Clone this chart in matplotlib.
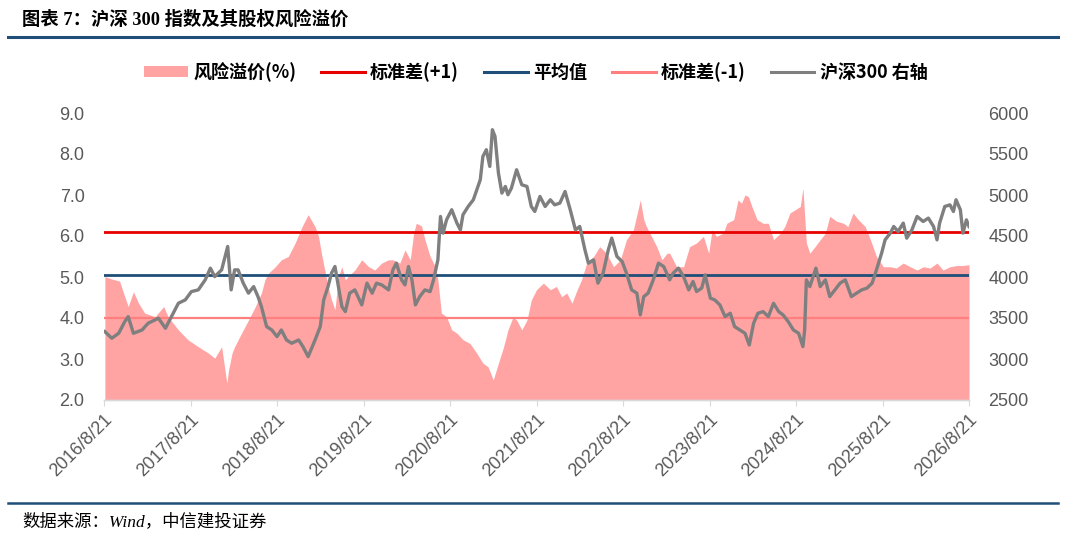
import matplotlib
matplotlib.use("Agg")
import matplotlib.pyplot as plt
from matplotlib.lines import Line2D
from matplotlib.patches import Patch

plt.rcParams['font.family'] = ['Noto Sans CJK SC', 'DejaVu Sans']

# ---- data (time as decimal year) ----
erp_t = [2016.65, 2016.73, 2016.82, 2016.88, 2016.92, 2016.98, 2017.04, 2017.11, 2017.23, 2017.33,
         2017.38, 2017.50, 2017.61, 2017.73, 2017.85, 2017.92, 2018.00, 2018.06, 2018.08, 2018.12,
         2018.15, 2018.23, 2018.31, 2018.39, 2018.46, 2018.50, 2018.54, 2018.62, 2018.69, 2018.77,
         2018.85, 2018.93, 2019.00, 2019.08, 2019.12, 2019.16, 2019.20, 2019.23, 2019.27, 2019.31,
         2019.35, 2019.39, 2019.43, 2019.46, 2019.54, 2019.62, 2019.70, 2019.77, 2019.85, 2019.93,
         2019.98, 2020.06, 2020.12, 2020.18, 2020.22, 2020.25, 2020.31, 2020.35, 2020.41, 2020.47,
         2020.50, 2020.54, 2020.60, 2020.66, 2020.72, 2020.79, 2020.87, 2020.95, 2021.02, 2021.08,
         2021.14, 2021.20, 2021.26, 2021.31, 2021.37, 2021.41, 2021.47, 2021.53, 2021.58, 2021.64,
         2021.72, 2021.80, 2021.87, 2021.93, 2021.99, 2022.05, 2022.11, 2022.16, 2022.22, 2022.30,
         2022.37, 2022.45, 2022.53, 2022.61, 2022.68, 2022.76, 2022.84, 2022.88, 2022.91, 2022.97,
         2023.03, 2023.09, 2023.15, 2023.18, 2023.26, 2023.34, 2023.41, 2023.49, 2023.57, 2023.63,
         2023.67, 2023.72, 2023.80, 2023.84, 2023.92, 2023.97, 2024.01, 2024.05, 2024.09, 2024.13,
         2024.19, 2024.26, 2024.32, 2024.38, 2024.46, 2024.51, 2024.57, 2024.63, 2024.69, 2024.72,
         2024.76, 2024.80, 2024.86, 2024.92, 2024.98, 2025.03, 2025.11, 2025.19, 2025.24, 2025.30,
         2025.36, 2025.44, 2025.50, 2025.57, 2025.65, 2025.73, 2025.80, 2025.88, 2025.96, 2026.04,
         2026.11, 2026.19, 2026.27, 2026.34, 2026.42, 2026.50, 2026.57, 2026.64]
erp = [5.01, 4.95, 4.90, 4.52, 4.28, 4.64, 4.36, 4.12, 4.03, 4.28,
       4.03, 3.71, 3.47, 3.30, 3.14, 3.02, 3.30, 2.41, 2.73, 3.14,
       3.30, 3.63, 3.95, 4.28, 4.61, 4.93, 5.09, 5.25, 5.42, 5.50,
       5.83, 6.23, 6.52, 6.23, 5.99, 5.50, 5.09, 4.77, 4.44, 4.20,
       5.01, 5.25, 4.93, 5.01, 5.17, 5.42, 5.25, 5.17, 5.34, 5.42,
       5.42, 5.34, 5.66, 5.42, 6.07, 6.31, 6.25, 5.91, 5.50, 5.25,
       4.93, 4.12, 4.03, 3.71, 3.63, 3.47, 3.38, 3.14, 2.90, 2.81,
       2.49, 2.90, 3.30, 3.71, 4.03, 3.95, 3.71, 3.95, 4.44, 4.69,
       4.85, 4.69, 4.77, 4.52, 4.61, 4.36, 4.69, 4.93, 5.34, 5.50,
       5.74, 5.58, 5.25, 5.42, 5.91, 6.15, 6.88, 6.40, 6.23, 5.99,
       5.74, 5.42, 5.58, 5.58, 5.25, 5.25, 5.74, 5.83, 5.99, 5.58,
       6.15, 5.99, 6.07, 6.31, 6.40, 6.88, 6.80, 7.00, 6.96, 6.72,
       6.40, 6.31, 6.31, 5.91, 6.07, 6.23, 6.56, 6.64, 6.72, 7.17,
       5.83, 5.58, 5.74, 5.91, 6.07, 6.48, 6.36, 6.31, 6.23, 6.56,
       6.40, 6.23, 5.91, 5.50, 5.25, 5.25, 5.22, 5.34, 5.25, 5.17,
       5.25, 5.22, 5.34, 5.17, 5.25, 5.28, 5.28, 5.30]

hs300_t = [2016.65, 2016.73, 2016.81, 2016.88, 2016.92, 2016.98, 2017.08, 2017.15, 2017.27, 2017.35,
           2017.42, 2017.50, 2017.58, 2017.65, 2017.73, 2017.81, 2017.87, 2017.92, 2018.00, 2018.07,
           2018.11, 2018.15, 2018.19, 2018.25, 2018.31, 2018.37, 2018.42, 2018.46, 2018.52, 2018.58,
           2018.64, 2018.69, 2018.75, 2018.81, 2018.89, 2018.94, 2019.00, 2019.08, 2019.14, 2019.18,
           2019.23, 2019.27, 2019.31, 2019.35, 2019.39, 2019.43, 2019.48, 2019.54, 2019.62, 2019.68,
           2019.74, 2019.79, 2019.85, 2019.93, 2019.98, 2020.02, 2020.08, 2020.12, 2020.16, 2020.20,
           2020.24, 2020.29, 2020.35, 2020.41, 2020.45, 2020.50, 2020.53, 2020.56, 2020.60, 2020.66,
           2020.72, 2020.76, 2020.79, 2020.85, 2020.91, 2020.95, 2020.99, 2021.02, 2021.06, 2021.10,
           2021.13, 2021.16, 2021.20, 2021.24, 2021.28, 2021.31, 2021.35, 2021.41, 2021.47, 2021.53,
           2021.58, 2021.62, 2021.68, 2021.74, 2021.80, 2021.85, 2021.91, 2021.97, 2022.03, 2022.09,
           2022.14, 2022.20, 2022.24, 2022.30, 2022.35, 2022.41, 2022.47, 2022.51, 2022.57, 2022.63,
           2022.68, 2022.74, 2022.80, 2022.84, 2022.88, 2022.93, 2022.99, 2023.05, 2023.11, 2023.18,
           2023.22, 2023.28, 2023.34, 2023.40, 2023.45, 2023.49, 2023.55, 2023.59, 2023.65, 2023.70,
           2023.76, 2023.82, 2023.88, 2023.93, 2023.99, 2024.05, 2024.10, 2024.15, 2024.20, 2024.26,
           2024.32, 2024.38, 2024.44, 2024.49, 2024.55, 2024.61, 2024.67, 2024.72, 2024.74, 2024.76,
           2024.80, 2024.87, 2024.92, 2024.98, 2025.03, 2025.09, 2025.15, 2025.21, 2025.28, 2025.34,
           2025.40, 2025.46, 2025.52, 2025.57, 2025.63, 2025.67, 2025.73, 2025.77, 2025.82, 2025.88,
           2025.92, 2025.98, 2026.04, 2026.11, 2026.17, 2026.23, 2026.27, 2026.30, 2026.36, 2026.42,
           2026.46, 2026.49, 2026.54, 2026.57, 2026.61, 2026.64]
hs300 = [3334, 3253, 3314, 3456, 3517, 3314, 3354, 3436, 3497, 3375,
         3517, 3680, 3721, 3822, 3843, 3965, 4108, 4005, 4087, 4372,
         3843, 4087, 4087, 3925, 3803, 3883, 3761, 3639, 3395, 3354,
         3273, 3354, 3232, 3192, 3232, 3151, 3029, 3232, 3395, 3721,
         3883, 4047, 4128, 3883, 3639, 3578, 3803, 3843, 3660, 3925,
         3803, 3925, 3904, 3843, 4087, 4169, 3965, 3904, 4128, 3965,
         3660, 3761, 3843, 3822, 3965, 4209, 4738, 4535, 4697, 4820,
         4657, 4575, 4759, 4860, 4942, 5064, 5186, 5470, 5552, 5348,
         5796, 5715, 5267, 5023, 5104, 5003, 5084, 5308, 5125, 5104,
         4860, 4799, 4982, 4860, 4942, 4880, 4901, 5043, 4820, 4575,
         4616, 4331, 4169, 4209, 3925, 4047, 4331, 4474, 4250, 4189,
         4047, 3843, 3803, 3538, 3761, 3803, 3965, 4169, 4128, 3965,
         4047, 4108, 4005, 3843, 3945, 3823, 3864, 4026, 3742, 3721,
         3660, 3517, 3558, 3395, 3354, 3314, 3171, 3436, 3558, 3578,
         3517, 3680, 3578, 3538, 3456, 3354, 3314, 3151, 3354, 3965,
         3883, 4108, 3883, 3965, 3761, 3843, 3925, 3965, 3761, 3803,
         3843, 3864, 3925, 4087, 4291, 4453, 4535, 4616, 4555, 4657,
         4474, 4575, 4738, 4677, 4718, 4616, 4453, 4657, 4860, 4880,
         4799, 4942, 4820, 4535, 4697, 4616]

erp_mean = 5.05
erp_plus1 = 6.09
erp_minus1 = 4.01

tick_pos = [2016.64 + k for k in range(11)]
tick_labels = [f"{2016 + k}/8/21" for k in range(11)]
left_ticks = [2.0, 3.0, 4.0, 5.0, 6.0, 7.0, 8.0, 9.0]
right_ticks = [2500, 3000, 3500, 4000, 4500, 5000, 5500, 6000]

# ---- colours ----
c_fill = '#FFA3A3'
c_plus = '#E60000'
c_mean = '#1F4E79'
c_minus = '#FF7F7F'
c_line = '#7F7F7F'
c_tick = '#595959'
c_rule = '#1F4E79'

W, H = 1080, 538
fig = plt.figure(figsize=(W / 100, H / 100), dpi=100)

ax = fig.add_axes([104 / W, 1 - 400 / H, 865 / W, 287 / H])
ax.fill_between(erp_t, 2.0, erp, color=c_fill, linewidth=0, zorder=1)
ax.axhline(erp_plus1, color=c_plus, lw=2.0, zorder=2)
ax.axhline(erp_mean, color=c_mean, lw=2.0, zorder=2)
ax.axhline(erp_minus1, color=c_minus, lw=1.6, zorder=2)
ax.set_xlim(tick_pos[0], tick_pos[-1])
ax.set_ylim(2.0, 9.0)
ax.set_yticks(left_ticks)
ax.set_yticklabels([f"{v:.1f}" for v in left_ticks])
ax.set_xticks(tick_pos)
ax.set_xticklabels(tick_labels, rotation=45, ha='right', rotation_mode='anchor')

ax2 = ax.twinx()
ax2.plot(hs300_t, hs300, color=c_line, lw=2.4, zorder=3)
ax2.set_ylim(2500, 6000)
ax2.set_yticks(right_ticks)
ax2.set_xlim(tick_pos[0], tick_pos[-1])

for a in (ax, ax2):
    for s in ('top', 'left', 'right'):
        a.spines[s].set_visible(False)
    a.spines['bottom'].set_color('#D9D9D9')
    a.spines['bottom'].set_linewidth(1.0)
    for lab in a.get_xticklabels() + a.get_yticklabels():
        lab.set_family(['Liberation Sans', 'DejaVu Sans'])
        lab.set_fontsize(13)
        lab.set_color(c_tick)
ax.tick_params(axis='y', length=0, pad=14)
ax2.tick_params(axis='y', length=0, pad=14)
ax.tick_params(axis='x', length=4, color='#D9D9D9', pad=4)

# legend
handles = [Patch(facecolor=c_fill, edgecolor='none'),
           Line2D([], [], color=c_plus, lw=2.2),
           Line2D([], [], color=c_mean, lw=2.2),
           Line2D([], [], color=c_minus, lw=2.2),
           Line2D([], [], color=c_line, lw=2.2)]
labels = ['风险溢价(%)', '标准差(+1)', '平均值', '标准差(-1)', '沪深300 右轴']
fig.legend(handles, labels, loc='center', bbox_to_anchor=(536 / W, 1 - 72 / H), ncol=5,
           frameon=False, handlelength=2.4, handleheight=0.6, handletextpad=0.3,
           columnspacing=1.4, prop={'family': ['Noto Sans CJK SC', 'DejaVu Sans'],
                                     'size': 13, 'weight': 'bold'})

# title, rules, source
fig.text(22 / W, 1 - 20 / H, '图表 7：沪深 300 指数及其股权风险溢价', ha='left', va='center',
         fontsize=13.2, fontweight='bold', family=['Liberation Serif', 'Noto Sans CJK SC'])
fig.add_artist(Line2D([8 / W, 1058 / W], [1 - 37 / H] * 2, color=c_rule, lw=2.2))
fig.add_artist(Line2D([8 / W, 1058 / W], [1 - 503 / H] * 2, color=c_rule, lw=1.8))
fig.text(22 / W, 1 - 522 / H, '数据来源：Wind，中信建投证券', ha='left', va='center',
         fontsize=12.5, style='italic', family=['Liberation Serif', 'Noto Sans CJK SC'])

fig.savefig('out.png', dpi=100)
